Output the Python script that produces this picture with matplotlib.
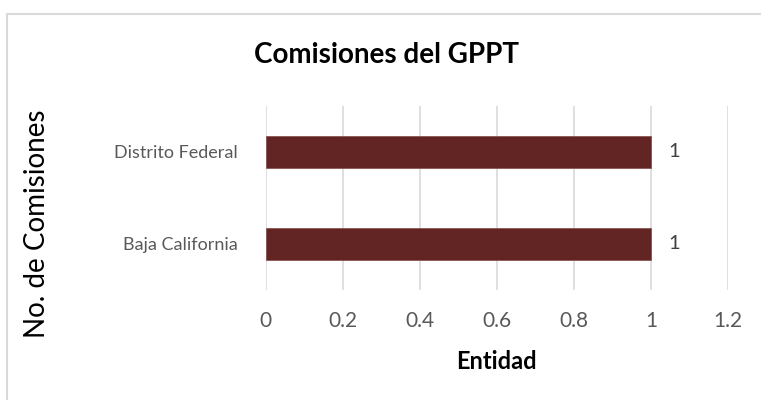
import matplotlib.pyplot as plt
from matplotlib.patches import Rectangle

entidades = ["Baja California", "Distrito Federal"]
comisiones = [1, 1]
xticks = [0, 0.2, 0.4, 0.6, 0.8, 1, 1.2]
xtick_labels = ["0", "0.2", "0.4", "0.6", "0.8", "1", "1.2"]

plt.rcParams['font.family'] = ['Lato', 'DejaVu Sans']

fig = plt.figure(figsize=(7.61, 4.0), dpi=100)
ax = fig.add_axes([0.349, 0.275, 0.608, 0.46])

# marco exterior (cortado a la derecha y abajo)
fig.patches.append(Rectangle((7 / 761, -0.1), 1.0, (400 - 14) / 400 + 0.1,
                             transform=fig.transFigure, fill=False,
                             edgecolor="#d9d9d9", linewidth=1.5))

pos = list(range(len(entidades)))
ax.barh(pos, comisiones, height=0.35, color="#632523", edgecolor="#8a5553",
        linewidth=0.6, zorder=3)

for p, v in zip(pos, comisiones):
    ax.text(v + 0.045, p, str(v), va="center", ha="left", fontsize=14.5,
            color="#404040")

ax.set_xlim(0, 1.2)
ax.set_ylim(-0.5, 1.5)
ax.set_xticks(xticks)
ax.set_xticklabels(xtick_labels)
ax.set_yticks(pos)
ax.set_yticklabels(entidades)
ax.tick_params(axis="x", length=0, pad=15, labelsize=15, labelcolor="#595959")
ax.tick_params(axis="y", length=0, pad=20, labelsize=13, labelcolor="#595959")
ax.grid(axis="x", color="#d9d9d9", linewidth=1.2, zorder=0)
for s in ax.spines.values():
    s.set_visible(False)

ax.set_xlabel("Entidad", fontsize=17, fontweight="bold", labelpad=14)
fig.text(0.508, 0.862, "Comisiones del GPPT", ha="center", va="center",
         fontsize=20, fontweight="bold")
fig.text(0.048, 0.44, "No. de Comisiones", rotation=90, ha="center",
         va="center", fontsize=20)

fig.savefig("out.png", dpi=100)
